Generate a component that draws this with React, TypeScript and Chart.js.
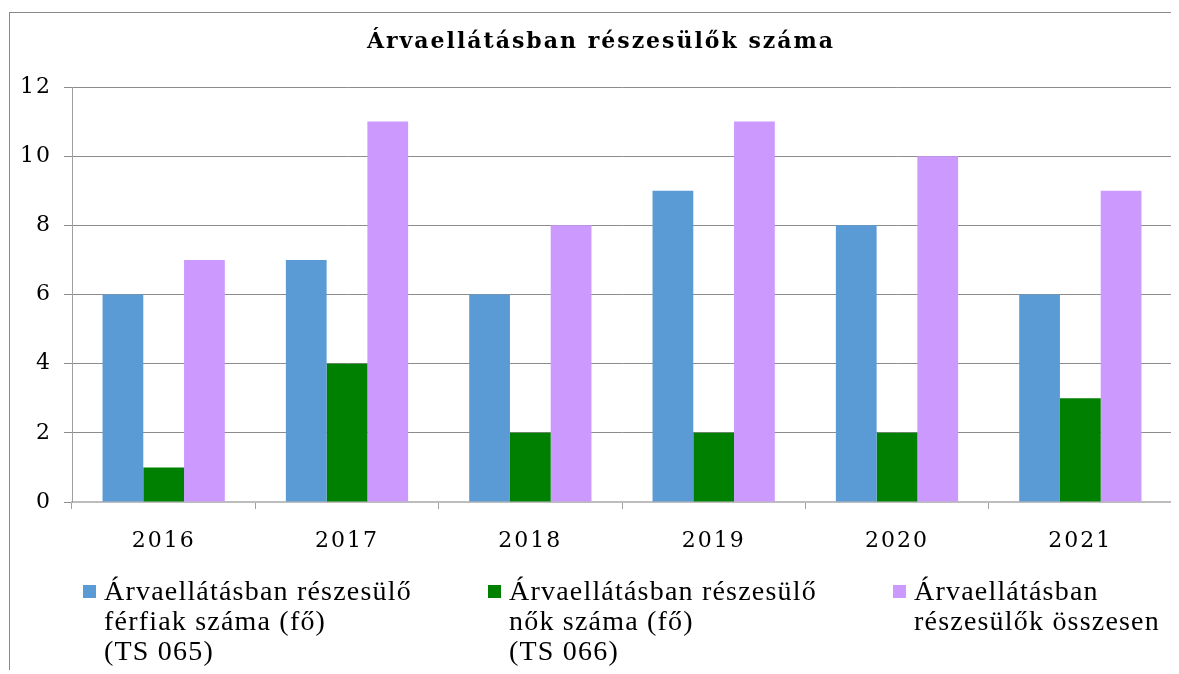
import React, { useEffect, useRef } from "react";
import { Chart, registerables } from "chart.js";

Chart.register(...registerables);

const years = ["2016", "2017", "2018", "2019", "2020", "2021"];
const menValues = [6, 7, 6, 9, 8, 6];
const womenValues = [1, 4, 2, 2, 2, 3];
const totalValues = [7, 11, 8, 11, 10, 9];

const titleText = "Árvaellátásban részesülők száma";
const menLegendLines = ["Árvaellátásban részesülő", "férfiak száma (fő)", "(TS 065)"];
const womenLegendLines = ["Árvaellátásban részesülő", "nők száma (fő)", "(TS 066)"];
const totalLegendLines = ["Árvaellátásban", "részesülők összesen"];

const FONT = "'DejaVu Serif', 'Liberation Serif', serif";
const LEGEND_FONT = "'Liberation Serif', 'DejaVu Serif', serif";

const textStyling = {
  id: "textStyling",
  beforeDraw(chart: any) {
    chart.ctx.letterSpacing = "2px";
  },
  afterDraw(chart: any) {
    const ctx = chart.ctx;
    const area = chart.chartArea;
    ctx.save();
    // title
    ctx.font = `bold 22px ${FONT}`;
    ctx.letterSpacing = "2px";
    ctx.fillStyle = "#000";
    ctx.textAlign = "center";
    ctx.textBaseline = "alphabetic";
    ctx.fillText(chart.options.plugins.customTitle.text, 591, 35);
    // legend
    ctx.font = `28px ${LEGEND_FONT}`;
    ctx.letterSpacing = "1.2px";
    ctx.textAlign = "left";
    const startX = area.left + 11;
    const colW = 405;
    const boxTop = 572;
    const box = 13;
    const lineH = 30;
    chart.data.datasets.forEach((ds: any, i: number) => {
      const x = startX + colW * i;
      ctx.fillStyle = ds.backgroundColor;
      ctx.fillRect(x, boxTop, box, box);
      ctx.fillStyle = "#000";
      const lines: string[] = ds.legendLines;
      lines.forEach((ln, j) => {
        ctx.fillText(ln, x + box + 8, 587 + j * lineH);
      });
    });
    ctx.restore();
    ctx.letterSpacing = "0px";
  },
};

export default function App() {
  const ref = useRef<HTMLCanvasElement>(null);
  useEffect(() => {
    if (!ref.current) return;
    const chart = new Chart(ref.current, {
      type: "bar",
      data: {
        labels: years,
        datasets: [
          { label: menLegendLines.join(" "), legendLines: menLegendLines, data: menValues, backgroundColor: "#5B9BD5", categoryPercentage: 0.667, barPercentage: 1 } as any,
          { label: womenLegendLines.join(" "), legendLines: womenLegendLines, data: womenValues, backgroundColor: "#008000", categoryPercentage: 0.667, barPercentage: 1 } as any,
          { label: totalLegendLines.join(" "), legendLines: totalLegendLines, data: totalValues, backgroundColor: "#CC99FF", categoryPercentage: 0.667, barPercentage: 1 } as any,
        ],
      },
      options: {
        responsive: false,
        animation: false,
        layout: { padding: { left: 0, right: 7, top: 74, bottom: 120 } },
        plugins: {
          legend: { display: false },
          tooltip: { enabled: false },
          title: { display: false },
          customTitle: { text: titleText },
        },
        scales: {
          x: {
            grid: { display: true, drawOnChartArea: false, drawTicks: true, tickLength: 7, offset: true, color: "#a0a0a0" },
            border: { display: true, color: "#bdbdbd", width: 2 },
            ticks: { color: "#000", font: { family: FONT, size: 22 }, padding: 19 },
            afterFit: (s: any) => { s.height = 52; },
          },
          y: {
            min: 0,
            max: 12,
            ticks: { stepSize: 2, color: "#000", font: { family: FONT, size: 22 }, padding: 12 },
            grid: { color: "#8c8c8c", tickLength: 8 },
            border: { display: true, color: "#a0a0a0" },
            afterFit: (s: any) => { s.width = 62; },
          },
        },
      },
      plugins: [textStyling],
    } as any);
    return () => chart.destroy();
  }, []);
  return (
    <div
      style={{
        position: "relative",
        left: 1,
        top: 4,
        width: 1170,
        height: 662,
        boxSizing: "border-box",
        borderTop: "1px solid #8a8a8a",
        borderLeft: "1px solid #8a8a8a",
        overflow: "hidden",
      }}
    >
      <canvas ref={ref} width={1169} height={661} style={{ display: "block" }} />
    </div>
  );
}
